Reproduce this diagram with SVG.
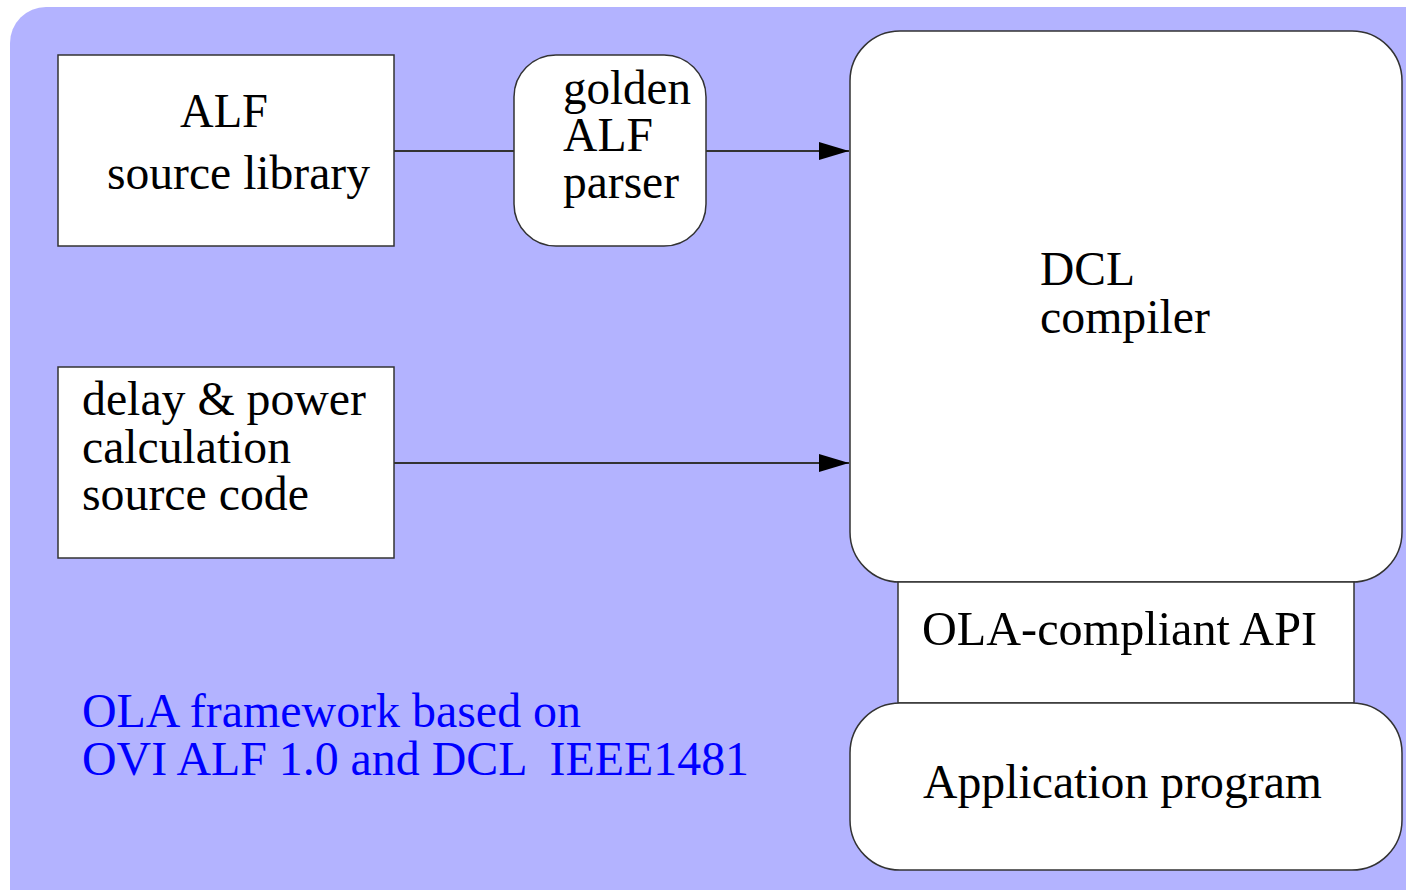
<svg xmlns="http://www.w3.org/2000/svg" width="1406" height="890" viewBox="0 0 1406 890">
<style>
.box{fill:#fff;stroke:#333;stroke-width:1.5}
.t{font-family:"Liberation Serif","Times New Roman",serif;font-size:48px;fill:#000}
.b{fill:#0000ff}
.c{stroke:#333;stroke-width:2;fill:none}
</style>
<defs>
<marker id="ah" markerWidth="30" markerHeight="18" refX="30" refY="9" orient="auto" markerUnits="userSpaceOnUse">
<path d="M0,0 L30,9 L0,18 Z" fill="#000"/>
</marker>
</defs>
<rect x="10" y="7" width="1440" height="940" rx="36" fill="#b3b3ff"/>
<g id="connectors">
<line class="c" x1="394" y1="151" x2="514" y2="151"/>
<line class="c" x1="706" y1="151" x2="849" y2="151" marker-end="url(#ah)"/>
<line class="c" x1="394" y1="463" x2="849" y2="463" marker-end="url(#ah)"/>
</g>
<g id="alf-lib">
<rect class="box" x="58" y="55" width="336" height="191"/>
<text class="t" x="180" y="127" textLength="88" lengthAdjust="spacingAndGlyphs">ALF</text>
<text class="t" x="107" y="189" textLength="263" lengthAdjust="spacingAndGlyphs">source library</text>
</g>
<g id="parser">
<rect class="box" x="514" y="55" width="192" height="191" rx="42"/>
<text class="t" x="563" y="104" textLength="128" lengthAdjust="spacingAndGlyphs">golden</text>
<text class="t" x="563" y="151" textLength="90" lengthAdjust="spacingAndGlyphs">ALF</text>
<text class="t" x="563" y="198" textLength="116" lengthAdjust="spacingAndGlyphs">parser</text>
</g>
<g id="dcl">
<rect class="box" x="850" y="31" width="552" height="551" rx="50"/>
<text class="t" x="1040" y="285" textLength="95" lengthAdjust="spacingAndGlyphs">DCL</text>
<text class="t" x="1040" y="333" textLength="170" lengthAdjust="spacingAndGlyphs">compiler</text>
</g>
<g id="delay">
<rect class="box" x="58" y="367" width="336" height="191"/>
<text class="t" x="82" y="415" textLength="284" lengthAdjust="spacingAndGlyphs">delay &amp; power</text>
<text class="t" x="82" y="463" textLength="209" lengthAdjust="spacingAndGlyphs">calculation</text>
<text class="t" x="82" y="510" textLength="227" lengthAdjust="spacingAndGlyphs">source code</text>
</g>
<g id="api">
<rect class="box" x="898" y="582" width="456" height="121"/>
<text class="t" x="922" y="645" textLength="395" lengthAdjust="spacingAndGlyphs">OLA-compliant API</text>
</g>
<g id="app">
<rect class="box" x="850" y="703" width="552" height="167" rx="50"/>
<text class="t" x="923" y="798" textLength="399" lengthAdjust="spacingAndGlyphs">Application program</text>
</g>
<g id="caption">
<text class="t b" x="82" y="727" textLength="499" lengthAdjust="spacingAndGlyphs">OLA framework based on</text>
<text class="t b" x="82" y="775" xml:space="preserve" textLength="667" lengthAdjust="spacingAndGlyphs">OVI ALF 1.0 and DCL  IEEE1481</text>
</g>
</svg>
